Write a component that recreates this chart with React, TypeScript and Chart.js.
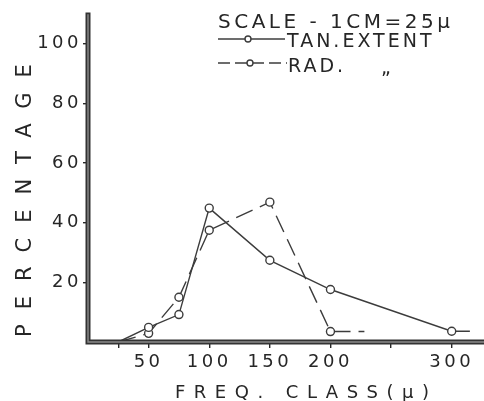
import React, { useEffect, useRef } from "react";
import { Chart, registerables } from "chart.js";

Chart.register(...registerables);

// ---- data ----
const xTickValues = [25, 50, 100, 150, 200, 250, 300];
const xTickLabels = ["", "50", "100", "150", "200", "", "300"];
const yTickValues = [20, 40, 60, 80, 100];

const tanX = [25, 50, 75, 100, 150, 200, 300, 315];
const tanY = [0, 4.9, 9.2, 44.9, 27.4, 17.6, 3.6, 3.6];
const radX = [25, 50, 75, 100, 150, 200, 228];
const radY = [0, 2.9, 15, 37.5, 46.9, 3.5, 3.5];

const titleText = "SCALE - 1CM=25\u00B5";
const tanLabel = "TAN.EXTENT";
const radLabel = "RAD.";
const dittoMark = "\u201E";
const xTitle = "FREQ. CLASS(\u00B5)";
const yTitle = "PERCENTAGE";

const FONT = '"DejaVu Sans", sans-serif';
const INK = "#262626";
const LINE = "#3c3c3c";

function drawText(
  ctx: CanvasRenderingContext2D,
  s: string,
  x: number,
  y: number,
  size: number,
  spacing: number
) {
  ctx.save();
  ctx.font = `${size}px ${FONT}`;
  ctx.fillStyle = INK;
  (ctx as any).letterSpacing = spacing + "px";
  ctx.textAlign = "left";
  ctx.textBaseline = "alphabetic";
  ctx.fillText(s, x, y);
  ctx.restore();
}

const decorPlugin = {
  id: "decor",
  beforeDraw(chart: any) {
    (chart.ctx as any).letterSpacing = "3.5px";
  },
  afterDraw(chart: any) {
    const ctx: CanvasRenderingContext2D = chart.ctx;
    (ctx as any).letterSpacing = "0px";
    const { left, bottom, top } = chart.chartArea;

    // axes as heavy double lines
    ctx.save();
    ctx.lineCap = "square";
    const axisPath = () => {
      ctx.beginPath();
      ctx.moveTo(left, top + 1);
      ctx.lineTo(left, bottom);
      ctx.lineTo(chart.width, bottom);
    };
    ctx.strokeStyle = "#333";
    ctx.lineWidth = 5;
    axisPath();
    ctx.stroke();
    ctx.strokeStyle = "#8c8c8c";
    ctx.lineWidth = 1.4;
    axisPath();
    ctx.stroke();
    ctx.restore();

    // scale note and legend
    drawText(ctx, titleText, 218, 28, 20, 3.5);
    drawText(ctx, tanLabel, 287, 47, 19, 3);
    drawText(ctx, radLabel, 288, 72, 19, 3);
    drawText(ctx, dittoMark, 381, 74, 19, 0);

    ctx.save();
    ctx.strokeStyle = LINE;
    ctx.lineWidth = 1.4;
    ctx.beginPath();
    ctx.moveTo(218, 39);
    ctx.lineTo(285, 39);
    ctx.stroke();
    ctx.setLineDash([12, 5]);
    ctx.beginPath();
    ctx.moveTo(218, 63);
    ctx.lineTo(287, 63);
    ctx.stroke();
    ctx.setLineDash([]);
    ctx.fillStyle = "#fff";
    for (const [cx, cy] of [
      [248, 39],
      [250, 63],
    ]) {
      ctx.beginPath();
      ctx.arc(cx, cy, 3, 0, Math.PI * 2);
      ctx.fill();
      ctx.stroke();
    }
    ctx.restore();

    // axis titles
    drawText(ctx, xTitle, 175, 398, 18, 8.5);
    ctx.save();
    ctx.translate(31, 337);
    ctx.rotate(-Math.PI / 2);
    drawText(ctx, yTitle, 0, 0, 21, 15);
    ctx.restore();
  },
};

export default function App() {
  const ref = useRef<HTMLCanvasElement | null>(null);

  useEffect(() => {
    if (!ref.current) return;
    const tanData = tanX.map((x, i) => ({ x, y: tanY[i] }));
    const radData = radX.map((x, i) => ({ x, y: radY[i] }));
    const radius = (n: number) =>
      Array.from({ length: n }, (_, i) => (i === 0 || i === n - 1 ? 0 : 4));

    const chart = new Chart(ref.current, {
      type: "line",
      data: {
        datasets: [
          {
            label: "TAN. EXTENT",
            data: tanData,
            borderColor: LINE,
            borderWidth: 1.4,
            pointRadius: radius(tanData.length),
            pointBackgroundColor: "#fff",
            pointBorderColor: LINE,
            pointBorderWidth: 1.4,
            tension: 0,
          },
          {
            label: "RAD.",
            data: radData,
            borderColor: LINE,
            borderWidth: 1.4,
            borderDash: [18, 8],
            pointRadius: radius(radData.length),
            pointBackgroundColor: "#fff",
            pointBorderColor: LINE,
            pointBorderWidth: 1.4,
            tension: 0,
          },
        ],
      },
      options: {
        responsive: false,
        animation: false,
        layout: { padding: { top: 14, right: 2, left: 0, bottom: 0 } },
        plugins: { legend: { display: false }, tooltip: { enabled: false } },
        scales: {
          x: {
            type: "linear",
            min: 0,
            max: 325,
            afterBuildTicks: (s: any) => {
              s.ticks = xTickValues.map((v) => ({ value: v }));
            },
            afterFit: (s: any) => {
              s.height = 59;
            },
            border: { display: false },
            grid: {
              drawOnChartArea: false,
              drawTicks: true,
              tickLength: 6,
              color: INK,
              lineWidth: 1.4,
            },
            ticks: {
              autoSkip: false,
              maxRotation: 0,
              padding: 4,
              color: INK,
              font: { family: FONT, size: 18 },
              callback: (v: any) => {
                const i = xTickValues.indexOf(Number(v));
                return i >= 0 ? xTickLabels[i] : "";
              },
            },
          },
          y: {
            type: "linear",
            min: 0,
            max: 110,
            afterBuildTicks: (s: any) => {
              s.ticks = yTickValues.map((v) => ({ value: v }));
            },
            afterFit: (s: any) => {
              s.width = 88;
            },
            border: { display: false },
            grid: {
              drawOnChartArea: false,
              drawTicks: true,
              tickLength: 5,
              color: INK,
              lineWidth: 1.4,
            },
            ticks: {
              padding: 1,
              color: INK,
              font: { family: FONT, size: 18 },
              callback: (v: any) => String(v),
            },
          },
        },
      },
      plugins: [decorPlugin],
    });
    return () => chart.destroy();
  }, []);

  return (
    <div
      style={{
        position: "absolute",
        left: 0,
        top: 0,
        width: 484,
        height: 401,
        background: "#fff",
      }}
    >
      <canvas ref={ref} width={484} height={401} style={{ display: "block" }} />
    </div>
  );
}
